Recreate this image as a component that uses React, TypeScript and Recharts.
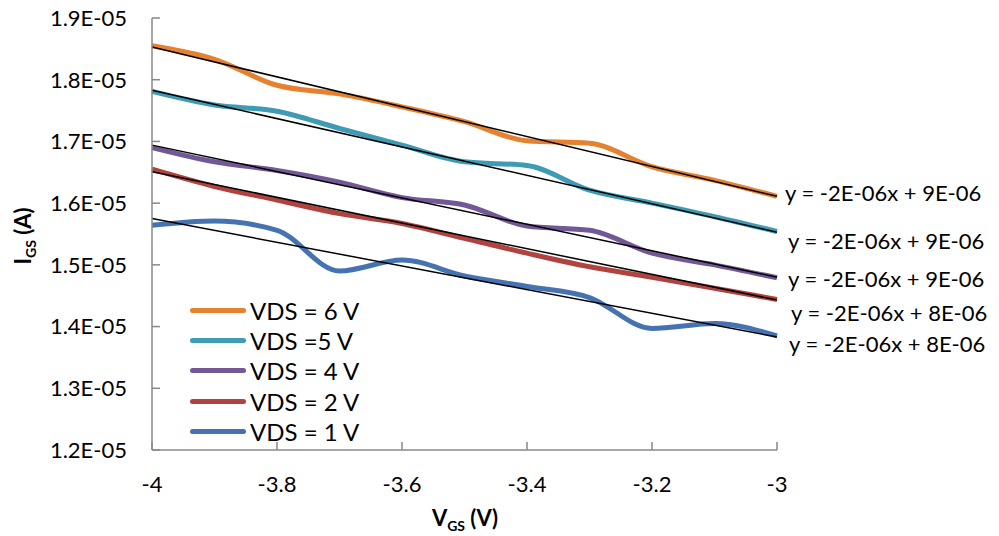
import { LineChart, Line, XAxis, YAxis } from 'recharts';

// gate voltage steps (V)
const vgs = [-4, -3.9, -3.8, -3.7, -3.6, -3.5, -3.4, -3.3, -3.2, -3.1, -3];

// gate current, in units of 1E-05 A
const vds6 = [1.855, 1.833, 1.791, 1.777, 1.756, 1.732, 1.701, 1.697, 1.659, 1.637, 1.611];
const vds5 = [1.781, 1.759, 1.749, 1.721, 1.694, 1.667, 1.661, 1.621, 1.6, 1.578, 1.554];
const vds4 = [1.69, 1.667, 1.653, 1.634, 1.609, 1.597, 1.563, 1.556, 1.519, 1.5, 1.479];
const vds2 = [1.655, 1.627, 1.605, 1.583, 1.567, 1.543, 1.519, 1.497, 1.48, 1.462, 1.444];
const vds1 = [1.564, 1.571, 1.556, 1.49, 1.508, 1.482, 1.465, 1.447, 1.397, 1.405, 1.385];

// linear trendline ends (at -4 V and -3 V)
const trend6 = [1.853, 1.611];
const trend5 = [1.783, 1.553];
const trend4 = [1.694, 1.48];
const trend2 = [1.651, 1.443];
const trend1 = [1.575, 1.383];

const xTicks = [-4, -3.8, -3.6, -3.4, -3.2, -3];
const yTicks = [1.2, 1.3, 1.4, 1.5, 1.6, 1.7, 1.8, 1.9];

const equations = [
  'y = -2E-06x + 9E-06',
  'y = -2E-06x + 9E-06',
  'y = -2E-06x + 9E-06',
  'y = -2E-06x + 8E-06',
  'y = -2E-06x + 8E-06',
];

const series = [
  { key: 'vds6', trend: 't6', name: 'VDS = 6 V', color: '#E5812F', values: vds6, ends: trend6 },
  { key: 'vds5', trend: 't5', name: 'VDS =5 V', color: '#3F9BB3', values: vds5, ends: trend5 },
  { key: 'vds4', trend: 't4', name: 'VDS = 4 V', color: '#735896', values: vds4, ends: trend4 },
  { key: 'vds2', trend: 't2', name: 'VDS = 2 V', color: '#B0433F', values: vds2, ends: trend2 },
  { key: 'vds1', trend: 't1', name: 'VDS = 1 V', color: '#4573B2', values: vds1, ends: trend1 },
];

const data = vgs.map((x, i) => {
  const row: any = { x };
  series.forEach((s) => {
    row[s.key] = s.values[i];
    row[s.trend] = i === 0 ? s.ends[0] : i === vgs.length - 1 ? s.ends[1] : null;
  });
  return row;
});

const font = 'Lato, "Open Sans", sans-serif';
const axisColor = '#898989';

const eqPos = [
  { left: 785, top: 192 },
  { left: 788, top: 240 },
  { left: 788, top: 278 },
  { left: 791, top: 312 },
  { left: 789, top: 343 },
];

export default function App() {
  return (
    <div style={{ position: 'relative', width: 999, height: 536, background: '#fff' }}>
      <style>{`body{margin:0}`}</style>
      <LineChart width={999} height={536} data={data} margin={{ top: 18, right: 222, bottom: 0, left: 0 }}>
        <XAxis
          dataKey="x"
          type="number"
          domain={[-4, -3]}
          ticks={xTicks}
          height={86}
          stroke={axisColor}
          strokeWidth={1.5}
          tickSize={-8}
          tickMargin={34}
          tick={{ fill: '#000', fontSize: 22, fontFamily: font }}
        />
        <YAxis
          type="number"
          domain={[1.2, 1.9]}
          ticks={yTicks}
          width={152}
          stroke={axisColor}
          strokeWidth={1.5}
          tickSize={-8}
          tickMargin={33}
          tickFormatter={(v: number) => `${v.toFixed(1)}E-05`}
          tick={{ fill: '#000', fontSize: 22, fontFamily: font }}
        />
        {series.map((s) => (
          <Line
            key={s.key}
            dataKey={s.key}
            name={s.name}
            type="monotone"
            stroke={s.color}
            strokeWidth={5}
            dot={false}
            isAnimationActive={false}
          />
        ))}
        {series.map((s) => (
          <Line
            key={s.trend}
            dataKey={s.trend}
            type="linear"
            stroke="#000"
            strokeWidth={1.5}
            dot={false}
            connectNulls
            legendType="none"
            isAnimationActive={false}
          />
        ))}
      </LineChart>

      {/* legend, inside the plot at the lower left */}
      <div style={{ position: 'absolute', left: 190, top: 295, fontFamily: font, fontSize: 24 }}>
        {series.map((s) => (
          <div key={s.key} style={{ display: 'flex', alignItems: 'center', height: 30.3 }}>
            <div style={{ width: 56, height: 5, borderRadius: 3, background: s.color, marginRight: 4 }} />
            <span style={{ whiteSpace: 'nowrap' }}>{s.name}</span>
          </div>
        ))}
      </div>

      {equations.map((eq, i) => (
        <div
          key={i}
          style={{
            position: 'absolute',
            left: eqPos[i].left,
            top: eqPos[i].top,
            transform: 'translateY(-50%)',
            fontFamily: font,
            fontSize: 22,
            whiteSpace: 'nowrap',
          }}
        >
          {eq}
        </div>
      ))}
      <div
        style={{
          position: 'absolute',
          left: 465,
          top: 519,
          transform: 'translate(-50%, -50%)',
          fontFamily: font,
          fontSize: 22,
          fontWeight: 700,
          whiteSpace: 'nowrap',
        }}
      >
        V<sub style={{ fontSize: 14 }}>GS</sub> (V)
      </div>
      <div
        style={{
          position: 'absolute',
          left: 24,
          top: 236,
          transform: 'translate(-50%, -50%) rotate(-90deg)',
          fontFamily: font,
          fontSize: 22,
          fontWeight: 700,
          whiteSpace: 'nowrap',
        }}
      >
        I<sub style={{ fontSize: 14 }}>GS</sub> (A)
      </div>
    </div>
  );
}
